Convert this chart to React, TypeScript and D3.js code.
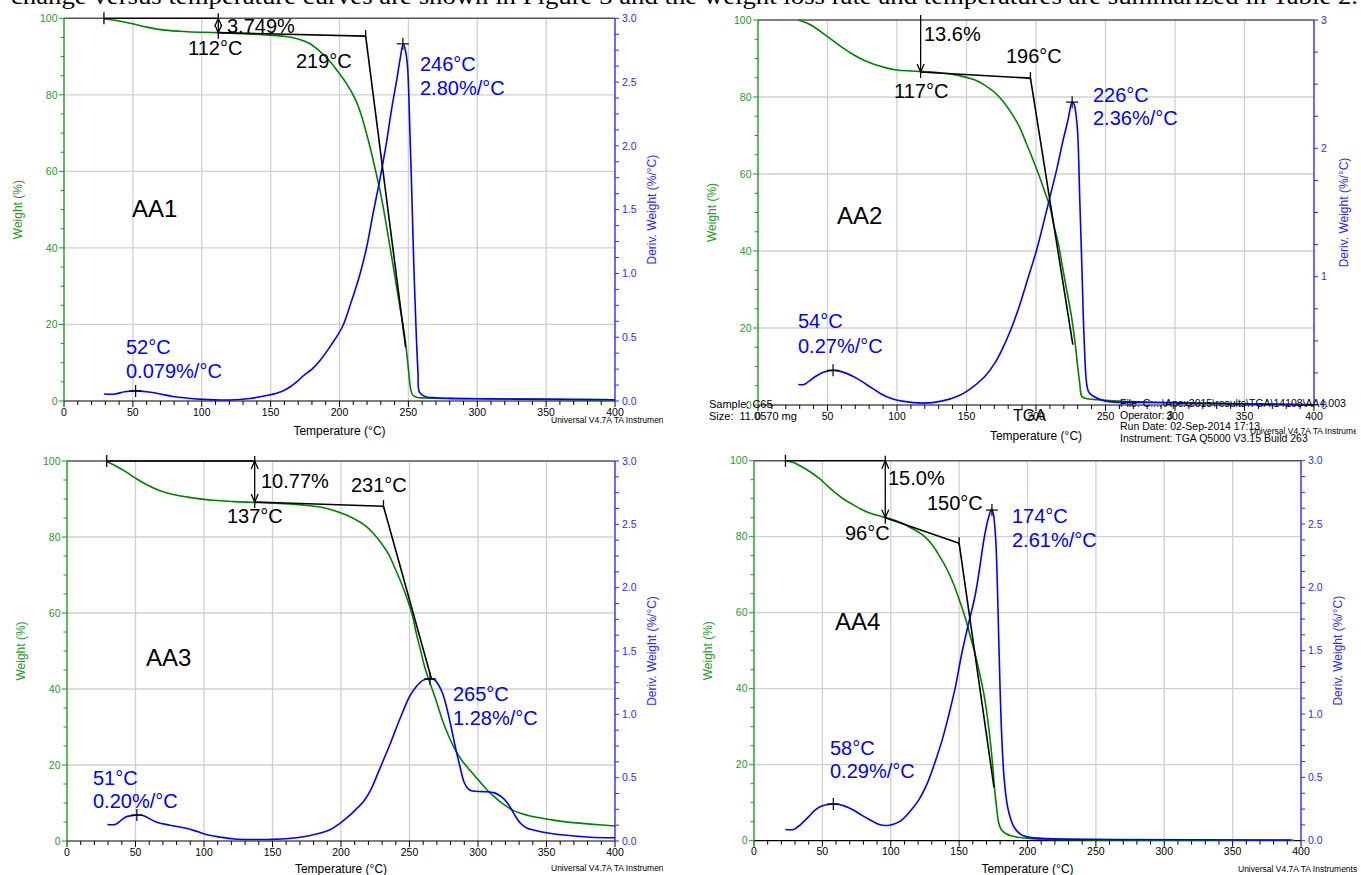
import React from 'react';
import * as d3 from 'd3';

const width = 1361;
const height = 875;
const sans = 'Liberation Sans, Arial, sans-serif';

// ---- AA1 ----
const aa1WeightT = [29, 40, 48, 60, 73, 90, 111, 130, 149, 160, 168, 178, 186, 193, 199, 205, 211.7, 216, 221, 226, 230.5, 234, 237, 240, 243, 246, 248, 250, 251.5, 253, 256, 262, 268, 300, 331, 370, 400];
const aa1Weight = [99.8, 99.3, 98.7, 97.7, 96.9, 96.5, 96.25, 95.95, 95.6, 95.3, 94.8, 93.5, 91.3, 88.8, 86, 83, 78.7, 74.5, 68, 60.5, 53, 46, 39.5, 33, 26.4, 20, 15, 8.5, 3.5, 1.6, 1.0, 0.8, 0.7, 0.6, 0.5, 0.4, 0.3];
const aa1DerivT = [29, 37, 44, 52, 60, 70, 79, 90, 101, 120, 135, 149, 158, 164, 170, 174, 180, 186, 194, 202, 208, 215, 220, 224, 229, 234, 238, 241.6, 244, 246.3, 248, 249.4, 251, 252.6, 254, 255.7, 257, 258, 262, 270, 284, 330, 400];
const aa1Deriv = [0.055, 0.055, 0.072, 0.079, 0.072, 0.055, 0.035, 0.022, 0.013, 0.008, 0.02, 0.047, 0.075, 0.11, 0.16, 0.2, 0.25, 0.32, 0.44, 0.58, 0.76, 1.0, 1.22, 1.45, 1.72, 2.02, 2.3, 2.52, 2.68, 2.8, 2.74, 2.62, 2.15, 1.58, 1.05, 0.53, 0.22, 0.07, 0.035, 0.025, 0.02, 0.015, 0.01];

// ---- AA2 ----
const aa2WeightT = [29, 38, 50, 60, 69, 77, 85, 93, 100, 110, 117.7, 130, 138, 150, 157, 163, 170, 175.5, 182, 188, 193, 197, 202, 206.7, 210, 213, 216, 219, 222, 225.5, 228, 230, 231.5, 233, 236, 244, 256, 288, 340, 400];
const aa2Weight = [100, 98.7, 95.7, 93, 90.9, 89.4, 88.3, 87.5, 87, 86.75, 86.6, 86.3, 86, 85.1, 84.3, 83.1, 81.3, 79.2, 76, 72.3, 68, 64.5, 59.8, 55, 51.5, 46.4, 42, 36, 30, 23, 16.5, 10, 5.5, 2.2, 1.7, 1.4, 1.1, 0.7, 0.4, 0.1];
const aa2DerivT = [29, 33, 36, 41, 47, 53.7, 60, 69, 78, 88, 96, 103.7, 119, 132, 144, 152, 163, 170, 175.5, 182, 188, 194, 200.5, 205, 210, 215, 219, 223, 226, 227.5, 229, 230, 231.5, 233, 234.5, 236.4, 238, 241, 250, 280, 340, 400];
const aa2Deriv = [0.16, 0.16, 0.18, 0.22, 0.255, 0.27, 0.26, 0.22, 0.16, 0.09, 0.05, 0.03, 0.015, 0.03, 0.07, 0.12, 0.22, 0.32, 0.43, 0.59, 0.77, 0.98, 1.21, 1.4, 1.62, 1.84, 2.04, 2.22, 2.36, 2.34, 2.24, 2.12, 1.6, 1.08, 0.55, 0.17, 0.1, 0.07, 0.03, 0.02, 0.01, 0.0];

// ---- AA3 ----
const aa3WeightT = [29.5, 36, 42.8, 50, 58.6, 68, 77.6, 88, 99.8, 110, 122, 137.8, 155, 172.6, 185, 191.6, 198, 204, 210, 217, 223, 229.6, 235, 239, 244, 248.6, 252, 255, 258, 261, 264, 267.6, 271, 274, 279, 283.5, 288, 293, 298, 302.5, 307, 312, 317, 321.5, 326, 331, 338, 346.8, 355, 362.6, 380, 400];
const aa3Weight = [99.8, 98.6, 97.2, 95.5, 93.7, 92.2, 91.2, 90.5, 89.9, 89.6, 89.3, 89.1, 88.8, 88.4, 87.9, 87.3, 86.6, 85.8, 84.7, 83.2, 81.2, 78.3, 75.3, 72.1, 67.9, 63.4, 59.5, 54.6, 50.3, 45.9, 42.5, 38.9, 35.2, 31.8, 27.3, 23.9, 21.3, 19.1, 17.0, 15.1, 13.3, 11.6, 10.1, 9.0, 8.0, 7.3, 6.6, 6.0, 5.5, 5.1, 4.5, 3.95];
const aa3DerivT = [29.5, 35, 38, 42.8, 47, 52, 56, 65, 75, 87, 95, 103, 112, 122, 135, 150, 162, 172.6, 182, 191.6, 198, 204, 210, 217, 222, 226, 231, 236, 241, 245.5, 250, 255, 260, 264.5, 268, 270.8, 274, 277, 280, 283.5, 287, 290, 293, 296, 304, 312, 317, 321.5, 326, 331, 336, 340.5, 350, 362.6, 381.6, 400];
const aa3Deriv = [0.13, 0.13, 0.15, 0.19, 0.2, 0.205, 0.2, 0.15, 0.125, 0.1, 0.075, 0.047, 0.03, 0.016, 0.012, 0.013, 0.02, 0.034, 0.055, 0.087, 0.13, 0.18, 0.24, 0.32, 0.41, 0.51, 0.64, 0.77, 0.91, 1.03, 1.14, 1.22, 1.27, 1.28, 1.275, 1.24, 1.17, 1.06, 0.92, 0.74, 0.58, 0.46, 0.41, 0.395, 0.39, 0.38, 0.35, 0.3, 0.22, 0.14, 0.1, 0.087, 0.065, 0.047, 0.03, 0.026];

// ---- AA4 ----
const aa4WeightT = [23, 29, 34.9, 41, 47.5, 54, 60, 66, 73, 79, 85.6, 96.7, 104, 111, 117, 123.6, 130, 136, 141, 145.8, 150.5, 155, 158, 161.6, 165, 168, 170.5, 172.7, 174.5, 176, 177.5, 179, 181, 184, 188, 193, 203, 215.5, 240, 263, 300, 395];
const aa4Weight = [100, 99.5, 98.4, 97.1, 95.4, 93.3, 91.4, 89.8, 88.3, 87.1, 86.1, 85, 84.2, 83.1, 81.9, 80.4, 78, 74.7, 71.5, 67.7, 63, 58.1, 54, 49.3, 44, 38.8, 33, 26.5, 20, 13.3, 8.5, 4.6, 2.8, 1.9, 1.3, 0.9, 0.55, 0.35, 0.25, 0.2, 0.15, 0.1];
const aa4DerivT = [23, 29, 32, 35, 40, 44.4, 50, 58.6, 66, 73, 79, 85.6, 91, 96.7, 102, 107.8, 114, 120.4, 127, 133, 138, 142.6, 147, 152, 157, 161.6, 165, 168, 171, 173.7, 175, 176.8, 178, 179, 180, 181.3, 183, 185.4, 187.5, 190, 195, 199.7, 215.5, 263, 393];
const aa4Deriv = [0.089, 0.089, 0.11, 0.137, 0.19, 0.24, 0.275, 0.29, 0.275, 0.24, 0.2, 0.16, 0.13, 0.12, 0.13, 0.16, 0.23, 0.32, 0.46, 0.64, 0.81, 1.0, 1.2, 1.48, 1.72, 1.93, 2.15, 2.37, 2.53, 2.616, 2.58, 2.37, 2.0, 1.58, 1.18, 0.79, 0.48, 0.27, 0.18, 0.11, 0.05, 0.03, 0.016, 0.01, 0.005];

// step analysis: [startT, stepT, topW, stepW, onsetT, onsetW, endT, endW]
const aa1Step = [29, 112, 100, 96.25, 219, 95.35, 248, 14];
const aa2Step = [null, 117, 100, 86.5, 196, 84.9, 226.5, 15.7];
const aa3Step = [29, 137, 100, 89.2, 231, 88.1, 266, 42.7];
const aa4Step = [23, 96, 100, 85.0, 150, 78.3, 175.5, 14];

// peaks [T, deriv]
const aa1Peaks = [[52, 0.079], [246, 2.8]];
const aa2Peaks = [[54, 0.27], [226, 2.36]];
const aa3Peaks = [[51, 0.205], [265, 1.28]];
const aa4Peaks = [[58, 0.29], [174, 2.61]];

// annotation text
const aa1Texts = ['3.749%', '112°C', '219°C', '246°C', '2.80%/°C', '52°C', '0.079%/°C', 'AA1'];
const aa2Texts = ['13.6%', '117°C', '196°C', '226°C', '2.36%/°C', '54°C', '0.27%/°C', 'AA2'];
const aa3Texts = ['10.77%', '137°C', '231°C', '265°C', '1.28%/°C', '51°C', '0.20%/°C', 'AA3'];
const aa4Texts = ['15.0%', '96°C', '150°C', '174°C', '2.61%/°C', '58°C', '0.29%/°C', 'AA4'];

const tempTicks = [0, 50, 100, 150, 200, 250, 300, 350, 400];
const weightTicks = [0, 20, 40, 60, 80, 100];
const derivTicks = [0, 0.5, 1, 1.5, 2, 2.5, 3];
const derivTicksInt = [0, 1, 2, 3];

// label offsets (px from plot top-left), same order as the texts
const aa1Pos = [[163, 14.7], [124, 36.7], [232, 49.7], [356, 52.7], [356, 76.7], [62, 335.7], [62, 359.7], [68, 198.4]];
const aa2Pos = [[166, 20.7], [136, 78], [248, 43], [335, 82], [335, 105], [40, 308], [40, 333], [79, 204]];
const aa3Pos = [[194, 26.7], [160, 62], [284, 30.7], [386, 240], [386, 264], [26, 324], [26, 346.7], [79, 205]];
const aa4Pos = [[134, 24.3], [91, 79.3], [173, 49.3], [258, 62.3], [258, 86], [76, 294.3], [76, 317.3], [81, 169.3]];

const GREEN = '#008000';
const GREEN_AX = '#1f9a1f';
const BLUE = '#0000ff';
const BLUE_AX = '#2a2aff';

function Panel({ cfg }) {
  const { id, box, wT, w, dT, d, step, peaks, texts, pos, intDeriv, arrow, clipRight, uni, tempY } = cfg;
  const x = d3.scaleLinear().domain([0, 400]).range([box.left, box.right]);
  const yW = d3.scaleLinear().domain([0, 100]).range([box.bottom, box.top]);
  const yD = d3.scaleLinear().domain([0, 3]).range([box.bottom, box.top]);
  const curve = d3.curveCatmullRom.alpha(0.5);
  const wLine = d3.line().x((p) => x(p[0])).y((p) => yW(p[1])).curve(curve);
  const dLine = d3.line().x((p) => x(p[0])).y((p) => yD(p[1])).curve(curve);

  const [startT, stepT, topW, stepW, onT, onW, endT, endW] = step;
  const xs = x(stepT), yTop = yW(topW), yStep = yW(stepW);
  const head = (px, py, dir) => `M${px - 3.5},${py - dir * 8} L${px},${py} L${px + 3.5},${py - dir * 8}`;

  const minorD = d3.range(0, 3.001, intDeriv ? 0.25 : 0.125);
  const dTicks = intDeriv ? derivTicksInt : derivTicks;
  const isBlue = (i) => i >= 3 && i <= 6;

  return (
    <g>
      <defs>
        <clipPath id={`clip-${id}`}>
          <rect x={box.left - 70} y={box.top - 30} width={clipRight - box.left + 70} height={box.bottom - box.top + 80} />
        </clipPath>
      </defs>
      <g clipPath={`url(#clip-${id})`}>
        {/* grid */}
        {tempTicks.filter((t) => t > 0 && t < 400).map((t) => (
          <line key={'gx' + t} x1={x(t)} x2={x(t)} y1={box.top} y2={box.bottom} stroke="#d0d0d0" strokeWidth={1.3} />
        ))}
        {weightTicks.filter((t) => t > 0 && t < 100).map((t) => (
          <line key={'gy' + t} x1={box.left} x2={box.right} y1={yW(t)} y2={yW(t)} stroke="#d0d0d0" strokeWidth={1.3} />
        ))}
        <line x1={box.left} x2={box.right} y1={box.top} y2={box.top} stroke="#555" strokeWidth={1.5} />

        {/* x axis */}
        <line x1={box.left} x2={box.right} y1={box.bottom} y2={box.bottom} stroke="#000" strokeWidth={1.2} />
        {d3.range(0, 401, 10).map((t) => (
          <line key={'xt' + t} x1={x(t)} x2={x(t)} y1={box.bottom} y2={box.bottom + (t % 50 === 0 ? 6 : 4)} stroke="#000" strokeWidth={1} />
        ))}
        {tempTicks.map((t) => (
          <text key={'xl' + t} x={x(t)} y={box.bottom + 14.5} textAnchor="middle" fontFamily={sans} fontSize={10.5} fill="#000">{t}</text>
        ))}
        <text x={(box.left + box.right) / 2} y={tempY} textAnchor="middle" fontFamily={sans} fontSize={12} fill="#000">Temperature (°C)</text>
        <text x={uni[0]} y={uni[1]} fontFamily={sans} fontSize={8.5} fill="#000">Universal V4.7A TA Instruments</text>

        {/* left axis */}
        <line x1={box.left} x2={box.left} y1={box.top} y2={box.bottom} stroke={GREEN_AX} strokeWidth={1.4} />
        {d3.range(0, 101, 5).map((t) => (
          <line key={'lt' + t} x1={box.left - (t % 20 === 0 ? 5 : 3.5)} x2={box.left} y1={yW(t)} y2={yW(t)} stroke={GREEN_AX} strokeWidth={1} />
        ))}
        {weightTicks.map((t) => (
          <text key={'ll' + t} x={box.left - 6.5} y={yW(t)} dy="0.35em" textAnchor="end" fontFamily={sans} fontSize={10.5} fill={GREEN_AX}>{t}</text>
        ))}
        <text transform={`translate(${box.left - 46},${(box.top + box.bottom) / 2}) rotate(-90)`} textAnchor="middle" dy="0.35em" fontFamily={sans} fontSize={12} fill={GREEN_AX}>Weight (%)</text>

        {/* right axis */}
        <line x1={box.right} x2={box.right} y1={box.top} y2={box.bottom} stroke={BLUE_AX} strokeWidth={1.4} />
        {minorD.map((t, i) => (
          <line key={'rt' + i} x1={box.right} x2={box.right + 4} y1={yD(t)} y2={yD(t)} stroke={BLUE_AX} strokeWidth={1} />
        ))}
        {dTicks.map((t) => (
          <text key={'rl' + t} x={box.right + 7} y={yD(t)} dy="0.35em" fontFamily={sans} fontSize={10.5} fill={BLUE_AX}>{intDeriv ? t : t.toFixed(1)}</text>
        ))}
        <text transform={`translate(${box.right + (intDeriv ? 30 : 37)},${(box.top + box.bottom) / 2}) rotate(-90)`} textAnchor="middle" dy="0.35em" fontFamily={sans} fontSize={12} fill={BLUE_AX}>Deriv. Weight (%/°C)</text>

        {/* curves */}
        <path d={wLine(d3.zip(wT, w))} fill="none" stroke={GREEN} strokeWidth={1.6} />
        <path d={dLine(d3.zip(dT, d))} fill="none" stroke={BLUE} strokeWidth={1.6} />

        {/* step analysis */}
        <g stroke="#000" strokeWidth={1.3} fill="none">
          {startT !== null && <line x1={x(startT)} x2={xs} y1={yTop} y2={yTop} />}
          {startT !== null && <line x1={x(startT)} x2={x(startT)} y1={yTop - 6} y2={yTop + 6} />}
          <line x1={xs} x2={xs} y1={yTop - 5} y2={yStep + 6} />
          <path d={head(xs, yStep, 1)} />
          {arrow === 'double' && <path d={head(xs, yTop, -1)} />}
          <line x1={xs} x2={x(onT)} y1={yStep} y2={yW(onW)} strokeWidth={1.6} />
          <line x1={x(onT)} x2={x(onT)} y1={yW(onW) - 6} y2={yW(onW) + 2} />
          <line x1={x(onT)} x2={x(endT)} y1={yW(onW)} y2={yW(endW)} strokeWidth={1.6} />
        </g>
        {peaks.map((p, i) => (
          <g key={'pk' + i} stroke="#000" strokeWidth={1.2}>
            <line x1={x(p[0]) - 6} x2={x(p[0]) + 6} y1={yD(p[1])} y2={yD(p[1])} />
            <line x1={x(p[0])} x2={x(p[0])} y1={yD(p[1]) - 6} y2={yD(p[1]) + 6} />
          </g>
        ))}

        {/* labels */}
        {texts.map((s, i) => (
          <text key={'tx' + i} x={box.left + pos[i][0]} y={box.top + pos[i][1]} fontFamily={sans}
            fontSize={i === 7 ? 24 : 20} fill={isBlue(i) ? BLUE : '#000'}>{s}</text>
        ))}
      </g>
    </g>
  );
}

const panels = [
  { id: 'aa1', box: { left: 64, right: 615, top: 18.3, bottom: 401 }, wT: aa1WeightT, w: aa1Weight, dT: aa1DerivT, d: aa1Deriv, step: aa1Step, peaks: aa1Peaks, texts: aa1Texts, pos: aa1Pos, intDeriv: false, arrow: 'double', clipRight: 663, uni: [551, 423], tempY: 435 },
  { id: 'aa2', box: { left: 758, right: 1314, top: 20, bottom: 405 }, wT: aa2WeightT, w: aa2Weight, dT: aa2DerivT, d: aa2Deriv, step: aa2Step, peaks: aa2Peaks, texts: aa2Texts, pos: aa2Pos, intDeriv: true, arrow: 'single', clipRight: 1356, uni: [1250, 434], tempY: 440 },
  { id: 'aa3', box: { left: 67, right: 615, top: 461, bottom: 841 }, wT: aa3WeightT, w: aa3Weight, dT: aa3DerivT, d: aa3Deriv, step: aa3Step, peaks: aa3Peaks, texts: aa3Texts, pos: aa3Pos, intDeriv: false, arrow: 'double', clipRight: 663, uni: [551, 871], tempY: 873 },
  { id: 'aa4', box: { left: 754, right: 1301, top: 460.7, bottom: 840.7 }, wT: aa4WeightT, w: aa4Weight, dT: aa4DerivT, d: aa4Deriv, step: aa4Step, peaks: aa4Peaks, texts: aa4Texts, pos: aa4Pos, intDeriv: false, arrow: 'double', clipRight: 1361, uni: [1238, 872], tempY: 873 },
];

const infoLeft = ['Sample: C65', 'Size:  11.0570 mg'];
const infoRight = ['File: C:...\\Apex2015\\results\\TGA\\14108\\AA4.003', 'Operator: 3', 'Run Date: 02-Sep-2014 17:13', 'Instrument: TGA Q5000 V3.15 Build 263'];

export default function App() {
  return (
    <svg width={width} height={height} viewBox={`0 0 ${width} ${height}`}
      style={{ position: 'absolute', left: 0, top: 0, background: '#fff' }}>
      <text x={11} y={4} fontFamily="Liberation Serif, Times New Roman, serif" fontSize={24} fill="#000"
        textLength={1347} lengthAdjust="spacingAndGlyphs">
        change versus temperature curves are shown in Figure 3 and the weight loss rate and temperatures are summarized in Table 2.
      </text>
      {panels.map((p) => <Panel key={p.id} cfg={p} />)}
      {/* instrument info printed over the AA2 panel */}
      {infoLeft.map((s, i) => (
        <text key={'il' + i} x={709} y={407.5 + i * 12} fontFamily={sans} fontSize={11} fill="#000" xmlSpace="preserve">{s}</text>
      ))}
      <text x={1013} y={421} fontFamily={sans} fontSize={16} fill="#000">TGA</text>
      {infoRight.map((s, i) => (
        <text key={'ir' + i} x={1120} y={407 + i * 11.5} fontFamily={sans} fontSize={10.5} fill="#000">{s}</text>
      ))}
    </svg>
  );
}
